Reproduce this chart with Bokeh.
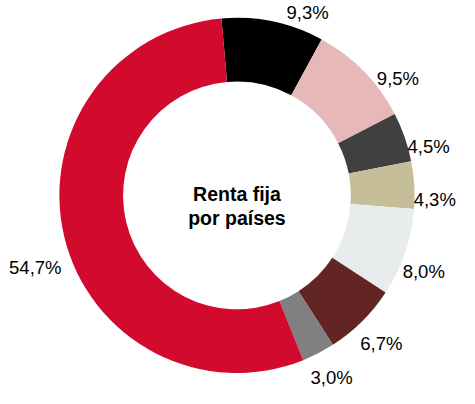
import math
from bokeh.plotting import figure
from bokeh.models import Range1d, ColumnDataSource
from bokeh.core.properties import value
from bokeh.embed import file_html
from bokeh.resources import INLINE

# ---- data ----
shares = [9.3, 9.5, 4.5, 4.3, 8.0, 6.7, 3.0, 54.7]
labels = ["9,3%", "9,5%", "4,5%", "4,3%", "8,0%", "6,7%", "3,0%", "54,7%"]
colors = ["#000000", "#E6B9B8", "#404040", "#C6BE98", "#E8ECEC", "#632523", "#808080", "#D20A2E"]
title_lines = ["Renta fija", "por países"]

# ---- layout (y up) ----
W, H = 459, 388
cx, cy = 249, 200
r_out, r_in = 184, 118
start_from_top = -5.0  # degrees, clockwise from 12 o'clock
# label placement tweaks (angle nudge in degrees, radius)
label_nudge = [9.4, 8.5, 4.9, 4.5, 3.4, 0.4, -0.1, -6.3]
label_rad = [203, 206, 205, 205, 209, 214, 213, 222]

total = sum(shares)
starts, ends, mids = [], [], []
acc = start_from_top
for s in shares:
    a0 = acc
    a1 = acc + 360.0 * s / total
    starts.append(math.radians(90 - a0))
    ends.append(math.radians(90 - a1))
    mids.append((a0 + a1) / 2)
    acc = a1

lx, ly = [], []
for m, n, r in zip(mids, label_nudge, label_rad):
    t = math.radians(m + n)
    lx.append(cx + r * math.sin(t))
    ly.append(cy + r * math.cos(t))

p = figure(width=W, height=H, x_range=Range1d(4, 479.6), y_range=Range1d(0, 402),
           output_backend="svg", toolbar_location=None, min_border=0)
p.axis.visible = False
p.grid.visible = False
p.outline_line_color = None
p.background_fill_color = "white"

src = ColumnDataSource(dict(start=starts, end=ends, color=colors))
p.annular_wedge(x=cx, y=cy, inner_radius=r_in, outer_radius=r_out,
                start_angle="start", end_angle="end", direction="clock",
                fill_color="color", line_color=None, source=src)

lsrc = ColumnDataSource(dict(x=lx, y=ly, t=labels))
p.text(x="x", y="y", text="t", source=lsrc, text_align="center", text_baseline="middle",
       text_font=value("Liberation Sans"), text_font_size="18.5px", text_color="#000000")

p.text(x=[cx, cx], y=[cy + 2, cy - 23], text=title_lines, text_align="center",
       text_baseline="middle", text_font=value("Liberation Sans"), text_font_size="19.5px",
       text_font_style="bold", text_color="#000000")

open("out.html", "w").write(file_html(p, INLINE))
